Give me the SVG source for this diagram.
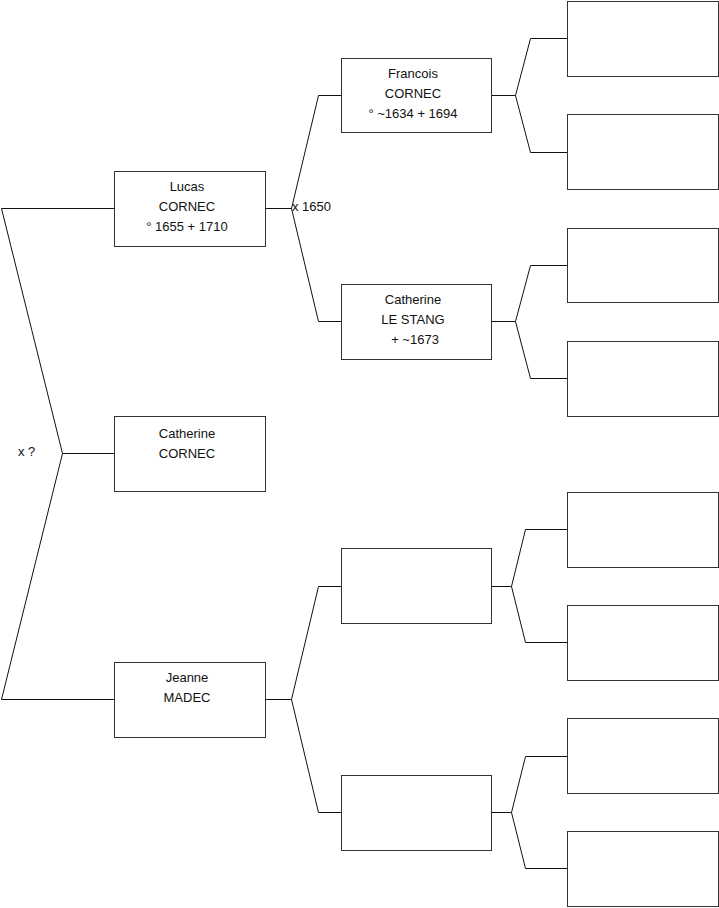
<svg xmlns="http://www.w3.org/2000/svg" width="719" height="908" viewBox="0 0 719 908">
<style>
.box{fill:#fff;stroke:#333;stroke-width:1}
.ln{fill:none;stroke:#111;stroke-width:1}
text{font-family:"Liberation Sans",Arial,sans-serif;font-size:13px;fill:#111;text-anchor:middle;dominant-baseline:central}
.lab{text-anchor:start}
</style>
<rect width="719" height="908" fill="#fff"/>
<g id="connectors">
<path class="ln" d="M114.5,208.5 H1.5 L62.5,453.5 L1.5,699.5 H114.5 M62.5,453.5 H114.5"/>
<path class="ln" d="M265.5,208.5 H291.5 L318.5,95.5 H341.5 M291.5,208.5 L318.5,321.5 H341.5"/>
<path class="ln" d="M265.5,699.5 H291.5 L318.5,586.5 H341.5 M291.5,699.5 L318.5,812.5 H341.5"/>
<path class="ln" d="M491.5,95.5 H515.5 L530.5,38.5 H567.5 M515.5,95.5 L530.5,152.5 H567.5"/>
<path class="ln" d="M491.5,321.5 H515.5 L530.5,265.5 H567.5 M515.5,321.5 L530.5,378.5 H567.5"/>
<path class="ln" d="M491.5,586.5 H511.5 L525.5,529.5 H567.5 M511.5,586.5 L525.5,642.5 H567.5"/>
<path class="ln" d="M491.5,812.5 H511.5 L525.5,756.5 H567.5 M511.5,812.5 L525.5,868.5 H567.5"/>
<text class="lab" x="292" y="206">x 1650</text>
<text class="lab" x="18" y="451">x ?</text>
</g>
<g id="lucas"><rect class="box" x="114.5" y="171.5" width="151" height="75"/>
<text x="187" y="186">Lucas</text><text x="187" y="206">CORNEC</text><text x="187" y="226">° 1655 + 1710</text></g>
<g id="catherine-cornec"><rect class="box" x="114.5" y="416.5" width="151" height="75"/>
<text x="187" y="433">Catherine</text><text x="187" y="453">CORNEC</text></g>
<g id="jeanne"><rect class="box" x="114.5" y="662.5" width="151" height="75"/>
<text x="187" y="677">Jeanne</text><text x="187" y="697">MADEC</text></g>
<g id="francois"><rect class="box" x="341.5" y="58.5" width="150" height="74"/>
<text x="413" y="73">Francois</text><text x="413" y="93">CORNEC</text><text x="413" y="113">° ~1634 + 1694</text></g>
<g id="catherine-lestang"><rect class="box" x="341.5" y="284.5" width="150" height="75"/>
<text x="413" y="299">Catherine</text><text x="413" y="319">LE STANG</text><text x="415" y="339">+ ~1673</text></g>
<g id="p3"><rect class="box" x="341.5" y="548.5" width="150" height="75"/></g>
<g id="p4"><rect class="box" x="341.5" y="775.5" width="150" height="75"/></g>
<g id="g1"><rect class="box" x="567.5" y="1.5" width="151" height="75"/></g>
<g id="g2"><rect class="box" x="567.5" y="114.5" width="151" height="75"/></g>
<g id="g3"><rect class="box" x="567.5" y="228.5" width="151" height="74"/></g>
<g id="g4"><rect class="box" x="567.5" y="341.5" width="151" height="75"/></g>
<g id="g5"><rect class="box" x="567.5" y="492.5" width="151" height="75"/></g>
<g id="g6"><rect class="box" x="567.5" y="605.5" width="151" height="75"/></g>
<g id="g7"><rect class="box" x="567.5" y="718.5" width="151" height="75"/></g>
<g id="g8"><rect class="box" x="567.5" y="831.5" width="151" height="75"/></g>
</svg>
